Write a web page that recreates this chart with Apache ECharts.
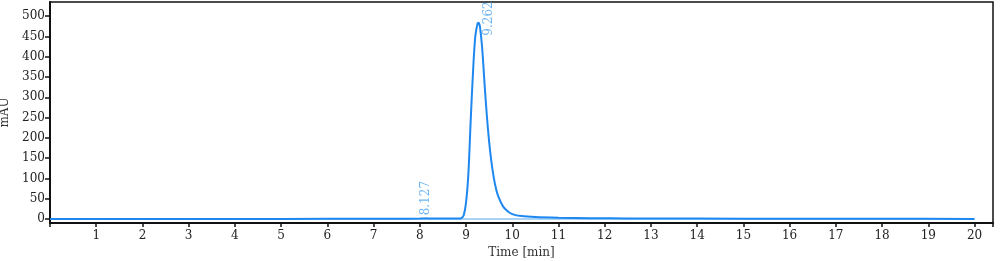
<!DOCTYPE html>
<html><head><meta charset="utf-8">
<script src="https://cdn.jsdelivr.net/npm/echarts@6/dist/echarts.min.js"></script>
<style>html,body{margin:0;padding:0;background:#fff}#c{width:1000px;height:261px}</style>
</head><body><div id="c"></div>
<script>
const times = [0, 2, 4, 6, 7.5, 8.0, 8.1, 8.127, 8.2, 8.4, 8.85, 8.9, 8.95, 9.0, 9.05, 9.1, 9.15, 9.2, 9.25, 9.27, 9.3, 9.35, 9.4, 9.45, 9.5, 9.55, 9.6, 9.65, 9.7, 9.8, 9.9, 10.0, 10.2, 10.5, 11.0, 11.7, 12.5, 14, 16, 18, 20];
const signal = [0, 0, 0, 0.2, 0.4, 0.8, 1.2, 1.5, 1.1, 0.8, 1.0, 2, 9, 40, 110, 240, 360, 450, 482, 484, 475, 420, 335, 255, 190, 140, 102, 74, 55, 31, 19, 12, 7, 4.5, 3, 2, 1.2, 0.8, 0.5, 0.3, 0];
const baselineT = [0, 20];
const baselineV = [0, 0];
const peakTimes = [8.127, 9.262];
const peakHeights = [1.5, 484];
const peakLabels = ['8.127', '9.262'];
const yTicks = [0, 50, 100, 150, 200, 250, 300, 350, 400, 450, 500];

const font = 'DejaVu Serif';
const chart = echarts.init(document.getElementById('c'), null, {renderer: 'canvas'});
chart.setOption({
  animation: false,
  grid: {left: 50, right: 7, top: 2, bottom: 38, outerBoundsMode: 'none', containLabel: false,
    show: true, borderColor: '#111', borderWidth: 1.5, backgroundColor: '#fff'},
  xAxis: {
    type: 'value', min: 0, max: 20.4, interval: 1,
    name: 'Time [min]', nameLocation: 'middle', nameGap: 24,
    nameTextStyle: {fontFamily: font, fontSize: 12, color: '#333'},
    axisLine: {show: true, onZero: false, lineStyle: {color: '#111', width: 2}},
    axisTick: {show: true, length: 4, lineStyle: {color: '#111', width: 1.5}},
    axisLabel: {fontFamily: font, fontSize: 12, color: '#222', margin: 7,
      formatter: v => (v === 0 || v > 20) ? '' : String(v)},
    splitLine: {show: false}
  },
  yAxis: {
    type: 'value', min: -10, max: 535,
    name: 'mAU', nameLocation: 'middle', nameGap: 32, nameRotate: 90,
    nameTextStyle: {fontFamily: font, fontSize: 12, color: '#333'},
    axisLine: {show: true, onZero: false, lineStyle: {color: '#111', width: 2}},
    axisTick: {show: true, length: 5, customValues: yTicks, lineStyle: {color: '#111', width: 1.5}},
    axisLabel: {fontFamily: font, fontSize: 12, color: '#222', margin: 5, customValues: yTicks},
    splitLine: {show: false}
  },
  series: [
    {type: 'line', data: baselineT.map((t, i) => [t, baselineV[i]]), symbol: 'none',
      lineStyle: {color: '#8cc4f5', width: 1.5}, z: 1},
    {type: 'line', data: times.map((t, i) => [t, signal[i]]), symbol: 'none', smooth: 0.3,
      lineStyle: {color: '#1e88f0', width: 2}, z: 2},
    {type: 'scatter', symbolSize: 0, z: 3,
      data: [
        {value: [peakTimes[0], peakHeights[0]], name: peakLabels[0], label: {offset: [3, 0]}},
        {value: [peakTimes[1], peakHeights[1]], name: peakLabels[1], label: {offset: [-13, 11]}}
      ],
      label: {show: true, formatter: p => p.name, rotate: 90, position: 'inside',
        align: 'left', verticalAlign: 'middle', fontFamily: font, fontSize: 12, color: '#4aa3f0'}}
  ]
});
</script></body></html>
